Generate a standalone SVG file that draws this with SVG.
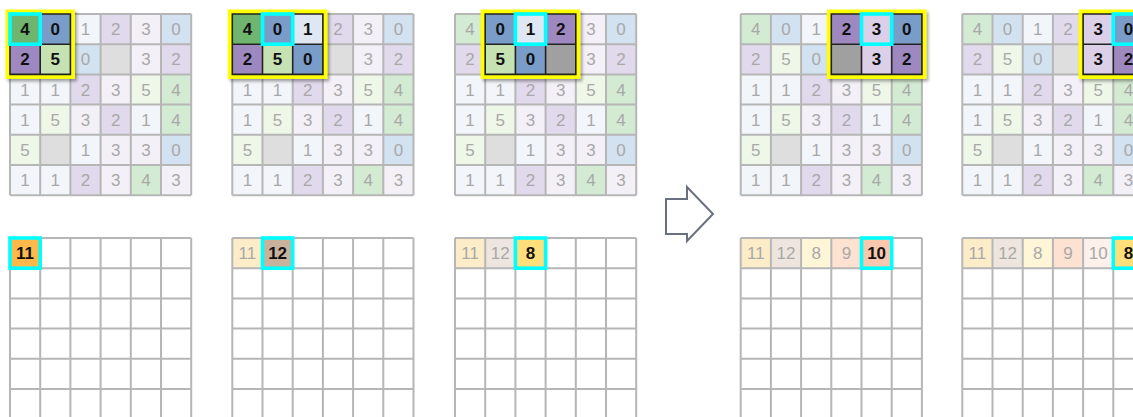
<svg xmlns="http://www.w3.org/2000/svg" xmlns:xlink="http://www.w3.org/1999/xlink" width="1133" height="417" viewBox="0 0 1133 417">
<style>
text{font-family:"Liberation Sans",Arial,sans-serif;font-size:17px;text-anchor:middle}
.f{fill:#a8a8a8}
.h{fill:#111;font-weight:bold}
.grid{fill:none;stroke:#b6b6b6;stroke-width:2}
.win{fill:none;stroke:#222;stroke-width:1.6}
.cy{fill:none;stroke:#00ffff;stroke-width:3.6}
.yel{fill:#ffff00}
.c0{fill:#d3e2f0}.c1{fill:#f2f5fa}.c2{fill:#e1d9ec}.c3{fill:#f3f0f7}.c4{fill:#d3ead3}.c5{fill:#eef7e8}.cb{fill:#dedede}
.d0{fill:#7a9cc8}.d1{fill:#dfe7f2}.d2{fill:#9d89c0}.d3{fill:#dccfe8}.d4{fill:#6fb46f}.d5{fill:#c6e2b2}.db{fill:#a0a0a0}
.o11{fill:#fdecc8}.o12{fill:#eee6de}.o8{fill:#fff6d8}.o9{fill:#fde2d2}.o10{fill:#fdf1ec}
.O11{fill:#ffb94a}.O12{fill:#c9b29b}.O8{fill:#ffdf7a}.O10{fill:#f8c7ad}
.arrow{fill:#fff;stroke:#6b7080;stroke-width:2;stroke-linejoin:miter}
</style>
<defs>
<filter id="sh" x="-20%" y="-20%" width="150%" height="150%">
<feDropShadow dx="2" dy="2.5" stdDeviation="1.8" flood-color="#000" flood-opacity="0.35"/>
</filter>
<g id="base">
<rect class="c4" x="0" y="0" width="30.2" height="30.2"/><rect class="c0" x="30.2" y="0" width="30.2" height="30.2"/><rect class="c1" x="60.4" y="0" width="30.2" height="30.2"/><rect class="c2" x="90.6" y="0" width="30.2" height="30.2"/><rect class="c3" x="120.8" y="0" width="30.2" height="30.2"/><rect class="c0" x="151" y="0" width="30.2" height="30.2"/>
<rect class="c2" x="0" y="30.2" width="30.2" height="30.2"/><rect class="c5" x="30.2" y="30.2" width="30.2" height="30.2"/><rect class="c0" x="60.4" y="30.2" width="30.2" height="30.2"/><rect class="cb" x="90.6" y="30.2" width="30.2" height="30.2"/><rect class="c3" x="120.8" y="30.2" width="30.2" height="30.2"/><rect class="c2" x="151" y="30.2" width="30.2" height="30.2"/>
<rect class="c1" x="0" y="60.4" width="30.2" height="30.2"/><rect class="c1" x="30.2" y="60.4" width="30.2" height="30.2"/><rect class="c2" x="60.4" y="60.4" width="30.2" height="30.2"/><rect class="c3" x="90.6" y="60.4" width="30.2" height="30.2"/><rect class="c5" x="120.8" y="60.4" width="30.2" height="30.2"/><rect class="c4" x="151" y="60.4" width="30.2" height="30.2"/>
<rect class="c1" x="0" y="90.6" width="30.2" height="30.2"/><rect class="c5" x="30.2" y="90.6" width="30.2" height="30.2"/><rect class="c3" x="60.4" y="90.6" width="30.2" height="30.2"/><rect class="c2" x="90.6" y="90.6" width="30.2" height="30.2"/><rect class="c1" x="120.8" y="90.6" width="30.2" height="30.2"/><rect class="c4" x="151" y="90.6" width="30.2" height="30.2"/>
<rect class="c5" x="0" y="120.8" width="30.2" height="30.2"/><rect class="cb" x="30.2" y="120.8" width="30.2" height="30.2"/><rect class="c1" x="60.4" y="120.8" width="30.2" height="30.2"/><rect class="c3" x="90.6" y="120.8" width="30.2" height="30.2"/><rect class="c3" x="120.8" y="120.8" width="30.2" height="30.2"/><rect class="c0" x="151" y="120.8" width="30.2" height="30.2"/>
<rect class="c1" x="0" y="151" width="30.2" height="30.2"/><rect class="c1" x="30.2" y="151" width="30.2" height="30.2"/><rect class="c2" x="60.4" y="151" width="30.2" height="30.2"/><rect class="c3" x="90.6" y="151" width="30.2" height="30.2"/><rect class="c4" x="120.8" y="151" width="30.2" height="30.2"/><rect class="c3" x="151" y="151" width="30.2" height="30.2"/>
<path class="grid" d="M0 0V181.2M30.2 0V181.2M60.4 0V181.2M90.6 0V181.2M120.8 0V181.2M151 0V181.2M181.2 0V181.2M0 0H181.2M0 30.2H181.2M0 60.4H181.2M0 90.6H181.2M0 120.8H181.2M0 151H181.2M0 181.2H181.2"/>
<g class="f">
<text x="15.1" y="21.1">4</text><text x="45.3" y="21.1">0</text><text x="75.5" y="21.1">1</text><text x="105.7" y="21.1">2</text><text x="135.9" y="21.1">3</text><text x="166.1" y="21.1">0</text>
<text x="15.1" y="51.3">2</text><text x="45.3" y="51.3">5</text><text x="75.5" y="51.3">0</text><text x="135.9" y="51.3">3</text><text x="166.1" y="51.3">2</text>
<text x="15.1" y="81.5">1</text><text x="45.3" y="81.5">1</text><text x="75.5" y="81.5">2</text><text x="105.7" y="81.5">3</text><text x="135.9" y="81.5">5</text><text x="166.1" y="81.5">4</text>
<text x="15.1" y="111.7">1</text><text x="45.3" y="111.7">5</text><text x="75.5" y="111.7">3</text><text x="105.7" y="111.7">2</text><text x="135.9" y="111.7">1</text><text x="166.1" y="111.7">4</text>
<text x="15.1" y="141.9">5</text><text x="75.5" y="141.9">1</text><text x="105.7" y="141.9">3</text><text x="135.9" y="141.9">3</text><text x="166.1" y="141.9">0</text>
<text x="15.1" y="172.1">1</text><text x="45.3" y="172.1">1</text><text x="75.5" y="172.1">2</text><text x="105.7" y="172.1">3</text><text x="135.9" y="172.1">4</text><text x="166.1" y="172.1">3</text>
</g>
</g>
<path id="empty" class="grid" d="M0 0V181.2M30.2 0V181.2M60.4 0V181.2M90.6 0V181.2M120.8 0V181.2M151 0V181.2M181.2 0V181.2M0 0H181.2M0 30.2H181.2M0 60.4H181.2M0 90.6H181.2M0 120.8H181.2M0 151H181.2"/>
</defs>

<!-- Panel 1 -->
<g id="panel1-input" transform="translate(10,14)">
<use href="#base"/>
<g id="panel1-window">
<rect class="yel" x="-4.5" y="-4.5" width="69.4" height="69.4" filter="url(#sh)"/>
<rect class="d4" x="0" y="0" width="30.2" height="30.2"/><rect class="d0" x="30.2" y="0" width="30.2" height="30.2"/>
<rect class="d2" x="0" y="30.2" width="30.2" height="30.2"/><rect class="d5" x="30.2" y="30.2" width="30.2" height="30.2"/>
<path class="win" d="M0 0H60.4V60.4H0ZM30.2 0V60.4M0 30.2H60.4"/>
<rect class="cy" x="0" y="0" width="30.2" height="30.2"/>
<g class="h"><text x="15.1" y="21.1">4</text><text x="45.3" y="21.1">0</text><text x="15.1" y="51.3">2</text><text x="45.3" y="51.3">5</text></g>
</g>
</g>
<g id="panel1-output" transform="translate(10,238)">
<rect class="O11" x="0" y="0" width="30.2" height="30.2"/>
<use href="#empty"/>
<rect class="cy" x="0" y="0" width="30.2" height="30.2"/>
<text class="h" x="15.1" y="21.1">11</text>
</g>

<!-- Panel 2 -->
<g id="panel2-input" transform="translate(232.3,14)">
<use href="#base"/>
<g id="panel2-window">
<rect class="yel" x="-4.5" y="-4.5" width="99.6" height="69.4" filter="url(#sh)"/>
<rect class="d4" x="0" y="0" width="30.2" height="30.2"/><rect class="d0" x="30.2" y="0" width="30.2" height="30.2"/><rect class="d1" x="60.4" y="0" width="30.2" height="30.2"/>
<rect class="d2" x="0" y="30.2" width="30.2" height="30.2"/><rect class="d5" x="30.2" y="30.2" width="30.2" height="30.2"/><rect class="d0" x="60.4" y="30.2" width="30.2" height="30.2"/>
<path class="win" d="M0 0H90.6V60.4H0ZM30.2 0V60.4M60.4 0V60.4M0 30.2H90.6"/>
<rect class="cy" x="30.2" y="0" width="30.2" height="30.2"/>
<g class="h"><text x="15.1" y="21.1">4</text><text x="45.3" y="21.1">0</text><text x="75.5" y="21.1">1</text><text x="15.1" y="51.3">2</text><text x="45.3" y="51.3">5</text><text x="75.5" y="51.3">0</text></g>
</g>
</g>
<g id="panel2-output" transform="translate(232.3,238)">
<rect class="o11" x="0" y="0" width="30.2" height="30.2"/>
<rect class="O12" x="30.2" y="0" width="30.2" height="30.2"/>
<use href="#empty"/>
<rect class="cy" x="30.2" y="0" width="30.2" height="30.2"/>
<text class="f" x="15.1" y="21.1">11</text>
<text class="h" x="45.3" y="21.1">12</text>
</g>

<!-- Panel 3 -->
<g id="panel3-input" transform="translate(455,14)">
<use href="#base"/>
<g id="panel3-window">
<rect class="yel" x="25.7" y="-4.5" width="99.6" height="69.4" filter="url(#sh)"/>
<rect class="d0" x="30.2" y="0" width="30.2" height="30.2"/><rect class="d1" x="60.4" y="0" width="30.2" height="30.2"/><rect class="d2" x="90.6" y="0" width="30.2" height="30.2"/>
<rect class="d5" x="30.2" y="30.2" width="30.2" height="30.2"/><rect class="d0" x="60.4" y="30.2" width="30.2" height="30.2"/><rect class="db" x="90.6" y="30.2" width="30.2" height="30.2"/>
<path class="win" d="M30.2 0H120.8V60.4H30.2ZM60.4 0V60.4M90.6 0V60.4M30.2 30.2H120.8"/>
<rect class="cy" x="60.4" y="0" width="30.2" height="30.2"/>
<g class="h"><text x="45.3" y="21.1">0</text><text x="75.5" y="21.1">1</text><text x="105.7" y="21.1">2</text><text x="45.3" y="51.3">5</text><text x="75.5" y="51.3">0</text></g>
</g>
</g>
<g id="panel3-output" transform="translate(455,238)">
<rect class="o11" x="0" y="0" width="30.2" height="30.2"/>
<rect class="o12" x="30.2" y="0" width="30.2" height="30.2"/>
<rect class="O8" x="60.4" y="0" width="30.2" height="30.2"/>
<use href="#empty"/>
<rect class="cy" x="60.4" y="0" width="30.2" height="30.2"/>
<text class="f" x="15.1" y="21.1">11</text>
<text class="f" x="45.3" y="21.1">12</text>
<text class="h" x="75.5" y="21.1">8</text>
</g>

<!-- Arrow -->
<g id="connectors">
<polygon class="arrow" points="666,199 687,199 687,187 713,214 687,241 687,234 666,234"/>
</g>

<!-- Panel 4 -->
<g id="panel4-input" transform="translate(740.7,14)">
<use href="#base"/>
<g id="panel4-window">
<rect class="yel" x="86.1" y="-4.5" width="99.6" height="69.4" filter="url(#sh)"/>
<rect class="d2" x="90.6" y="0" width="30.2" height="30.2"/><rect class="d3" x="120.8" y="0" width="30.2" height="30.2"/><rect class="d0" x="151" y="0" width="30.2" height="30.2"/>
<rect class="db" x="90.6" y="30.2" width="30.2" height="30.2"/><rect class="d3" x="120.8" y="30.2" width="30.2" height="30.2"/><rect class="d2" x="151" y="30.2" width="30.2" height="30.2"/>
<path class="win" d="M90.6 0H181.2V60.4H90.6ZM120.8 0V60.4M151 0V60.4M90.6 30.2H181.2"/>
<rect class="cy" x="120.8" y="0" width="30.2" height="30.2"/>
<g class="h"><text x="105.7" y="21.1">2</text><text x="135.9" y="21.1">3</text><text x="166.1" y="21.1">0</text><text x="135.9" y="51.3">3</text><text x="166.1" y="51.3">2</text></g>
</g>
</g>
<g id="panel4-output" transform="translate(740.7,238)">
<rect class="o11" x="0" y="0" width="30.2" height="30.2"/>
<rect class="o12" x="30.2" y="0" width="30.2" height="30.2"/>
<rect class="o8" x="60.4" y="0" width="30.2" height="30.2"/>
<rect class="o9" x="90.6" y="0" width="30.2" height="30.2"/>
<rect class="O10" x="120.8" y="0" width="30.2" height="30.2"/>
<use href="#empty"/>
<rect class="cy" x="120.8" y="0" width="30.2" height="30.2"/>
<text class="f" x="15.1" y="21.1">11</text>
<text class="f" x="45.3" y="21.1">12</text>
<text class="f" x="75.5" y="21.1">8</text>
<text class="f" x="105.7" y="21.1">9</text>
<text class="h" x="135.9" y="21.1">10</text>
</g>

<!-- Panel 5 -->
<g id="panel5-input" transform="translate(962.3,14)">
<use href="#base"/>
<g id="panel5-window">
<rect class="yel" x="116.3" y="-4.5" width="69.4" height="69.4" filter="url(#sh)"/>
<rect class="d3" x="120.8" y="0" width="30.2" height="30.2"/><rect class="d0" x="151" y="0" width="30.2" height="30.2"/>
<rect class="d3" x="120.8" y="30.2" width="30.2" height="30.2"/><rect class="d2" x="151" y="30.2" width="30.2" height="30.2"/>
<path class="win" d="M120.8 0H181.2V60.4H120.8ZM151 0V60.4M120.8 30.2H181.2"/>
<rect class="cy" x="151" y="0" width="30.2" height="30.2"/>
<g class="h"><text x="135.9" y="21.1">3</text><text x="166.1" y="21.1">0</text><text x="135.9" y="51.3">3</text><text x="166.1" y="51.3">2</text></g>
</g>
</g>
<g id="panel5-output" transform="translate(962.3,238)">
<rect class="o11" x="0" y="0" width="30.2" height="30.2"/>
<rect class="o12" x="30.2" y="0" width="30.2" height="30.2"/>
<rect class="o8" x="60.4" y="0" width="30.2" height="30.2"/>
<rect class="o9" x="90.6" y="0" width="30.2" height="30.2"/>
<rect class="o10" x="120.8" y="0" width="30.2" height="30.2"/>
<rect class="O8" x="151" y="0" width="30.2" height="30.2"/>
<use href="#empty"/>
<rect class="cy" x="151" y="0" width="30.2" height="30.2"/>
<text class="f" x="15.1" y="21.1">11</text>
<text class="f" x="45.3" y="21.1">12</text>
<text class="f" x="75.5" y="21.1">8</text>
<text class="f" x="105.7" y="21.1">9</text>
<text class="f" x="135.9" y="21.1">10</text>
<text class="h" x="166.1" y="21.1">8</text>
</g>
</svg>
